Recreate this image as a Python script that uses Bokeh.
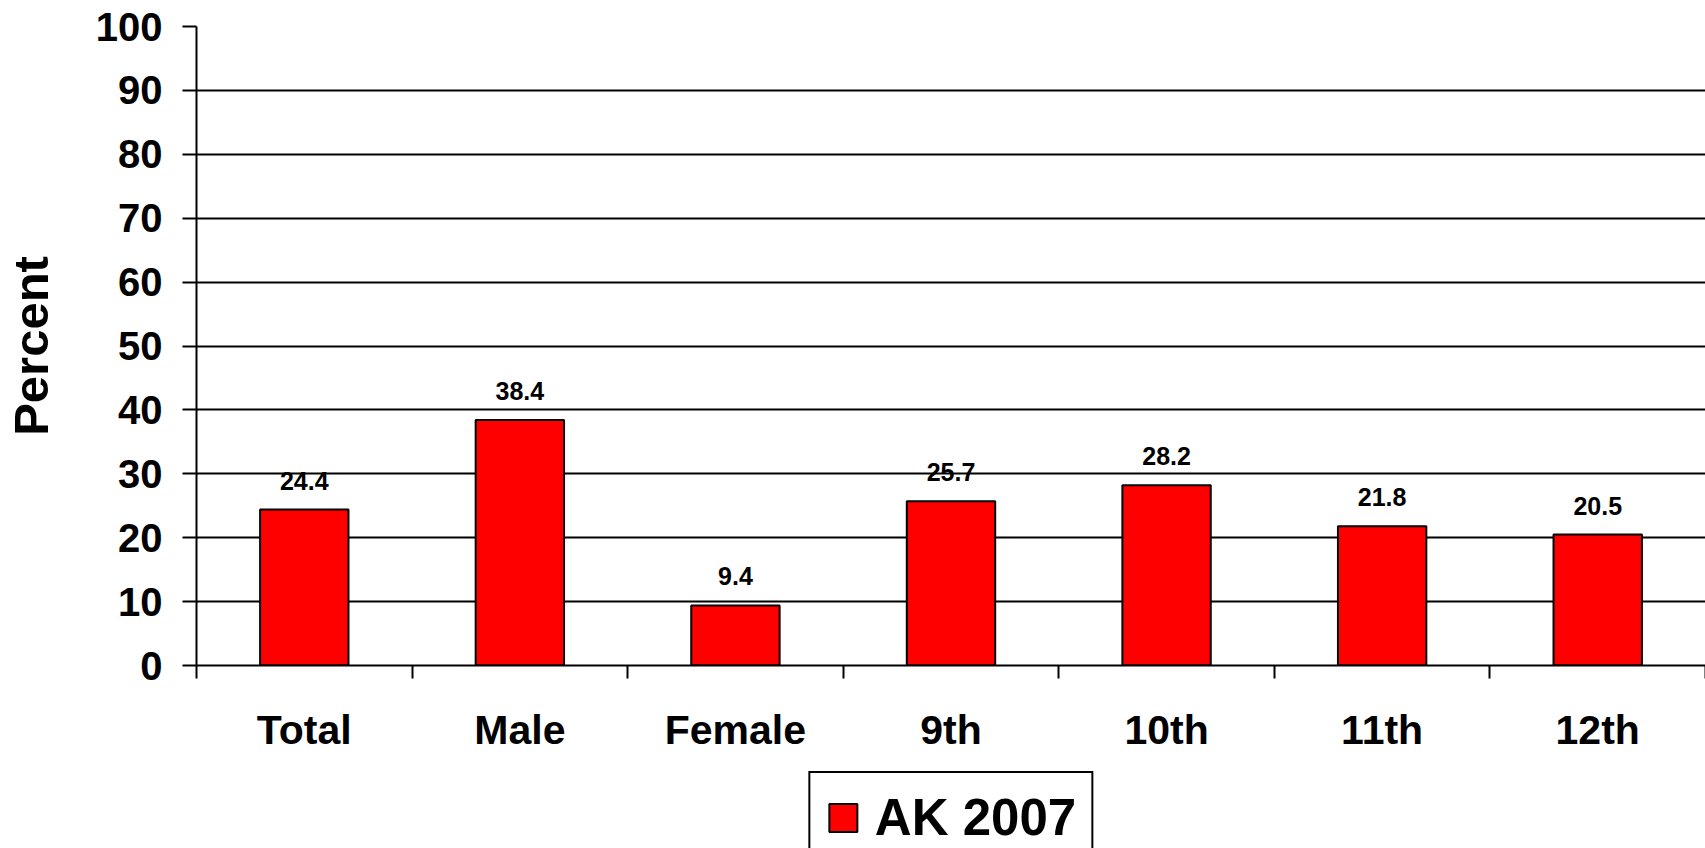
from bokeh.plotting import figure
from bokeh.models import Range1d, FixedTicker, Legend, LegendItem, ColumnDataSource
from bokeh.layouts import column
from bokeh.core.properties import value
from bokeh.embed import file_html
from bokeh.resources import INLINE

categories = ["Total", "Male", "Female", "9th", "10th", "11th", "12th"]
values = [24.4, 38.4, 9.4, 25.7, 28.2, 21.8, 20.5]
series_name = "AK 2007"
y_ticks = list(range(0, 101, 10))

FONT = "Liberation Sans"

xs = [i + 0.5 for i in range(len(categories))]
src = ColumnDataSource(dict(x=xs, value=values, label=[f"{v:.1f}" for v in values]))

p = figure(width=1705, height=760, x_range=Range1d(0, len(categories)), y_range=Range1d(0, 100),
           output_backend="svg", toolbar_location=None,
           min_border_left=196, min_border_right=0, min_border_top=26, min_border_bottom=95)
p.outline_line_color = None
p.background_fill_color = "white"
p.border_fill_color = "white"

r = p.vbar(x="x", top="value", width=0.41, source=src, fill_color="#FF0000",
           line_color="black", line_width=2)

p.text(x="x", y="value", text="label", source=src, y_offset=-29,
       text_align="center", text_baseline="alphabetic",
       text_font=value(FONT), text_font_style="bold", text_font_size="25px", text_color="black")

# x axis
xa = p.xaxis[0]
xa.ticker = FixedTicker(ticks=xs, minor_ticks=list(range(len(categories) + 1)))
xa.major_label_overrides = {x: c for x, c in zip(xs, categories)}
xa.major_tick_line_color = None
xa.major_tick_out = 13
xa.major_tick_in = 0
xa.minor_tick_out = 13
xa.minor_tick_in = 0
xa.minor_tick_line_color = "black"
xa.minor_tick_line_width = 2
xa.axis_line_color = "black"
xa.axis_line_width = 2
xa.major_label_text_font = FONT
xa.major_label_text_font_style = "bold"
xa.major_label_text_font_size = "41px"
xa.major_label_text_color = "black"
xa.major_label_standoff = 28

# y axis
ya = p.yaxis[0]
ya.ticker = FixedTicker(ticks=y_ticks)
ya.major_tick_out = 14
ya.major_tick_in = 0
ya.major_tick_line_width = 2
ya.major_tick_line_color = "black"
ya.minor_tick_line_color = None
ya.axis_line_width = 2
ya.axis_line_color = "black"
ya.major_label_text_font = FONT
ya.major_label_text_font_style = "bold"
ya.major_label_text_font_size = "40px"
ya.major_label_text_color = "black"
ya.major_label_standoff = 20
ya.axis_label = "Percent"
ya.axis_label_text_font = FONT
ya.axis_label_text_font_style = "bold"
ya.axis_label_text_font_size = "49px"
ya.axis_label_text_color = "black"
ya.axis_label_standoff = 35

p.xgrid.grid_line_color = None
p.ygrid.grid_line_color = "black"
p.ygrid.grid_line_width = 2

# legend strip below the chart; its tiny swatch renderer sits hidden under the opaque legend box
lg = figure(width=1705, height=88, x_range=Range1d(0, 1), y_range=Range1d(0, 1),
            output_backend="svg", toolbar_location=None, x_axis_location=None, y_axis_location=None,
            min_border_left=196, min_border_right=0, min_border_top=0, min_border_bottom=0)
lg.outline_line_color = None
lg.xgrid.grid_line_color = None
lg.ygrid.grid_line_color = None
swatch_src = ColumnDataSource(dict(x=[0.5], top=[0.55], bottom=[0.45]))
lr = lg.vbar(x="x", top="top", bottom="bottom", width=0.005, source=swatch_src,
             fill_color="#FF0000", line_color="black", line_width=2)

legend = Legend(items=[LegendItem(label=series_name, renderers=[lr])], location="top_center",
                orientation="horizontal", border_line_color="black", border_line_width=2,
                border_line_alpha=1.0,
                label_text_font=FONT, label_text_font_style="bold", label_text_font_size="51px",
                label_text_color="black",
                glyph_width=35, glyph_height=35, label_standoff=15, padding=15, margin=11,
                background_fill_color="white", background_fill_alpha=1.0)
lg.add_layout(legend, "center")

layout = column(p, lg, spacing=0)
open("out.html", "w").write(file_html(layout, INLINE))
